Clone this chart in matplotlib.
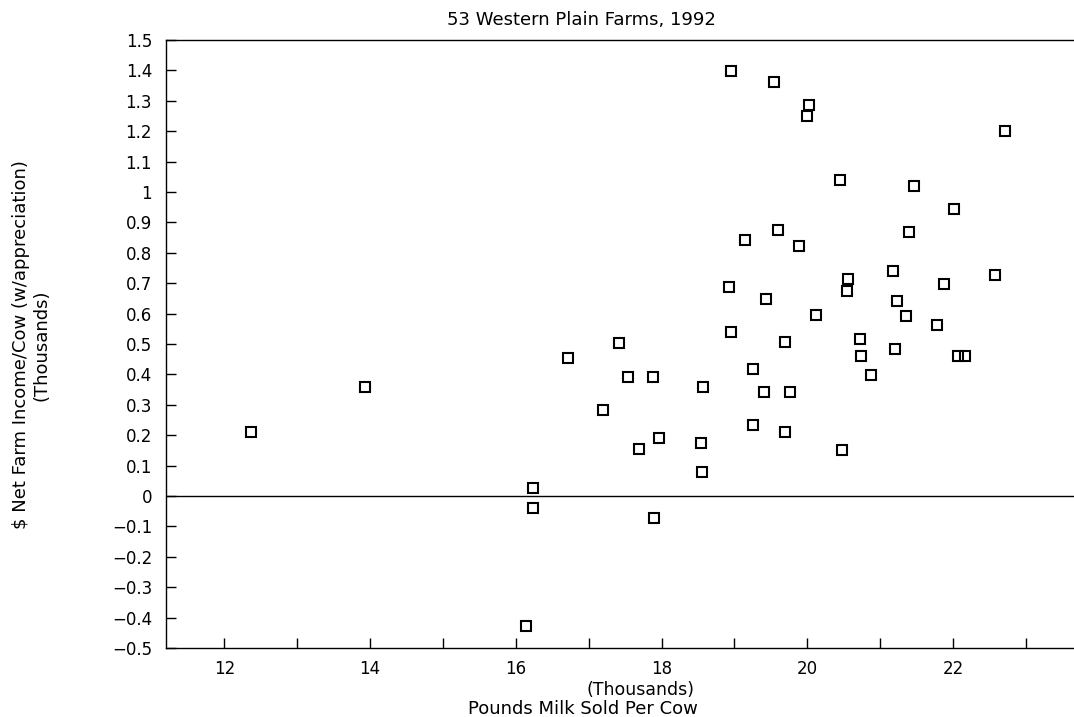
import matplotlib
matplotlib.use("Agg")
import matplotlib.pyplot as plt
import numpy as np

milk_sold_thousands = [12.36, 13.93, 16.23, 16.23, 16.14, 16.71, 17.19, 17.41, 17.54, 17.69,
                       17.88, 17.96, 17.90, 18.54, 18.56, 18.57, 18.93, 18.96, 18.96, 19.14,
                       19.26, 19.25, 19.41, 19.44, 19.54, 19.60, 19.69, 19.70, 19.76, 19.88,
                       20.02, 20.00, 20.12, 20.45, 20.47, 20.56, 20.55, 20.72, 20.74, 20.88,
                       21.18, 21.21, 21.23, 21.36, 21.40, 21.47, 21.78, 21.87, 22.02, 22.07,
                       22.16, 22.57, 22.71]
income_thousands = [0.209, 0.358, 0.026, -0.038, -0.429, 0.454, 0.284, 0.504, 0.391, 0.153,
                    0.391, 0.191, -0.074, 0.173, 0.080, 0.359, 0.689, 0.541, 1.397, 0.842,
                    0.417, 0.232, 0.341, 0.647, 1.361, 0.875, 0.507, 0.209, 0.341, 0.823,
                    1.286, 1.251, 0.594, 1.038, 0.150, 0.714, 0.674, 0.516, 0.459, 0.398,
                    0.741, 0.484, 0.642, 0.592, 0.868, 1.020, 0.564, 0.696, 0.943, 0.459,
                    0.462, 0.728, 1.200]

x_ticks = list(range(12, 24))
x_labels = ["12", "", "14", "", "16", "", "18", "", "20", "", "22", ""]
y_ticks = [round(-0.5 + 0.1 * i, 1) for i in range(21)]
y_labels = ["−0.5", "−0.4", "−0.3", "−0.2", "−0.1", "0", "0.1", "0.2", "0.3", "0.4",
            "0.5", "0.6", "0.7", "0.8", "0.9", "1", "1.1", "1.2", "1.3", "1.4", "1.5"]

title = "53 Western Plain Farms, 1992"
xlabel_top = "(Thousands)"
xlabel_bottom = "Pounds Milk Sold Per Cow"
ylabel = "\\$ Net Farm Income/Cow (w/appreciation)\n(Thousands)"

plt.rcParams['font.family'] = ['DejaVu Sans']
fig = plt.figure(figsize=(10.74, 7.17), dpi=100)
ax = fig.add_axes([166 / 1074, 69 / 717, 1 - 166 / 1074, 608 / 717])

ax.plot(milk_sold_thousands, income_thousands, linestyle='none', marker='s',
        markersize=7.5, markerfacecolor='none', markeredgecolor='black', markeredgewidth=1.5,
        clip_on=False)
ax.axhline(0, color='black', linewidth=1.0)

ax.set_xlim(11.2, 23.66)
ax.set_ylim(-0.5, 1.5)
ax.set_xticks(x_ticks)
ax.set_xticklabels(x_labels)
ax.set_yticks(y_ticks)
ax.set_yticklabels(y_labels)
ax.tick_params(axis='both', direction='in', length=7, width=1.0, colors='black', labelsize=12)
ax.tick_params(axis='x', pad=9)
ax.tick_params(axis='y', pad=10)
ax.spines['right'].set_visible(False)
for s in ['left', 'bottom', 'top']:
    ax.spines[s].set_linewidth(1.0)

fig.text(581 / 1074, 1 - 20 / 717, title, ha='center', va='center', fontsize=13)
fig.text(640 / 1074, 1 - 690 / 717, xlabel_top, ha='center', va='center', fontsize=12.5)
fig.text(583 / 1074, 1 - 709 / 717, xlabel_bottom, ha='center', va='center', fontsize=13)
fig.text(31 / 1074, 1 - 345 / 717, ylabel, ha='center', va='center', rotation=90,
         fontsize=13, multialignment='center', linespacing=1.15)

fig.savefig("out.png", dpi=100)
